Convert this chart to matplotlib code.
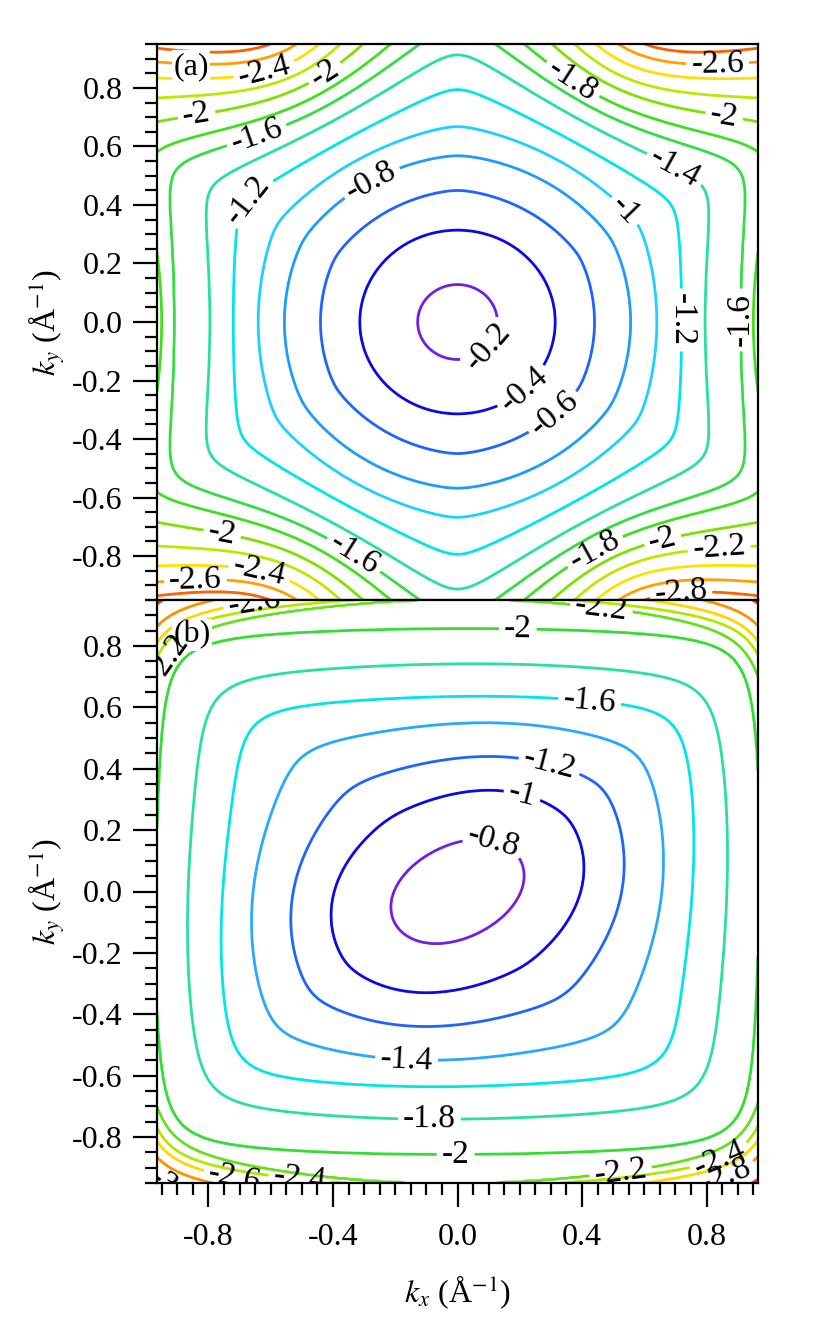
import numpy as np
import matplotlib
matplotlib.use('Agg')
import matplotlib.pyplot as plt
from matplotlib.ticker import MultipleLocator, FuncFormatter

plt.rcParams['font.family'] = ['Liberation Serif', 'DejaVu Serif']
plt.rcParams['mathtext.fontset'] = 'stix'
plt.rcParams['axes.unicode_minus'] = False

# axis ranges (1/Angstrom)
kx_range = [-0.965, 0.965]
ky_range = [-0.95, 0.95]

# drawn contour levels (eV) and their colours, lowest first
levels_a = [-3.0, -2.8, -2.6, -2.4, -2.2, -2.0, -1.8, -1.6, -1.4, -1.2, -1.0, -0.8, -0.6, -0.4, -0.2]
colors_a = ['#ff2000', '#ff6000', '#ffa000', '#ffe000', '#c0e600', '#80e000', '#40e020', '#33dd44',
            '#28e0a0', '#00e5e5', '#1ed0ff', '#1e9bff', '#1e64ff', '#0a0ae6', '#7020e6']
levels_b = [-3.0, -2.8, -2.6, -2.4, -2.2, -2.0, -1.8, -1.6, -1.4, -1.2, -1.0, -0.8]
colors_b = ['#ff3000', '#ff9000', '#ffd700', '#b4e600', '#66e01e', '#33dd33', '#28e0a0', '#00e5e5',
            '#28a8ff', '#1e64ff', '#0a0ae6', '#7020e6']

# panel (a): contour radius along the flat (0/60/120 deg) direction, extra radius
# along kx only, and how strongly each contour bulges towards the 30/90 deg vertices
prof_lev_a = [-0.08, -0.2, -0.4, -0.6, -0.8, -1.0, -1.2, -1.4, -1.6, -1.8, -2.0, -2.2, -2.4, -2.6, -2.8, -3.0, -3.2]
prof_r_a = [0.0, 0.128, 0.314, 0.44, 0.556, 0.64, 0.72, 0.795, 0.85, 0.896, 0.946, 0.99, 1.035, 1.08, 1.12, 1.15, 1.19]
prof_dx_a = [0, 0, 0, 0, 0, 0, 0, 0, 0.06, 0.054, 0.05, 0.05, 0.05, 0.05, 0.05, 0.05, 0.05]
prof_bulge_a = [0, 0, 0, 0.15, 0.15, 0.29, 0.68, 0.96, 1.2, 1.43, 1.8, 2.3, 2.8, 3.2, 3.6, 4.0, 4.4]

# panel (b): radius along ky, bulge towards the diagonals, kx stretch and tilt
prof_lev_b = [-0.66, -0.8, -1.0, -1.2, -1.4, -1.6, -1.8, -2.0, -2.2, -2.4, -2.6, -2.8, -3.0, -3.2]
prof_r_b = [0.0, 0.17, 0.33, 0.44, 0.55, 0.636, 0.742, 0.857, 0.953, 0.962, 0.99, 1.02, 1.07, 1.14]
prof_bulge_b = [0, 0, 0.1, 0.25, 0.4, 0.6, 0.6, 0.65, 0.46, 0.52, 0.5, 0.5, 0.5, 0.5]
stretch_b = [1.2, 0.06]
shear_b = [0.45, 0.55]

# contour label placement
lab_a_lev = [-2.4, -2.0, -2.0, -1.6, -1.2, -0.8, -1.8, -2.6, -2.0, -1.4, -1.0, -1.2,
             -1.6, -0.2, -0.4, -0.6, -2.0, -1.6, -2.6, -2.4, -1.8, -2.0, -2.2, -2.8]
lab_a_x = [-0.617, -0.418, -0.836, -0.64, -0.682, -0.318, 0.363, 0.836, 0.855, 0.70, 0.563, 0.733,
           0.849, 0.094, 0.21, 0.32, -0.755, -0.343, -0.842, -0.64, 0.45, 0.66, 0.84, 0.717]
lab_a_y = [0.844, 0.837, 0.697, 0.622, 0.427, 0.564, 0.817, 0.854, 0.697, 0.53, 0.407, 0.007,
           0.007, -0.079, -0.226, -0.325, -0.72, -0.813, -0.865, -0.872, -0.80, -0.75, -0.768, -0.92]

lab_b_lev = [-2.6, -2.2, -2.0, -2.2, -1.6, -1.2, -1.0, -0.8, -1.4, -1.8, -2.0, -2.2,
             -2.4, -2.8, -3.0, -2.6, -2.4]
lab_b_x = [-0.64, -0.797, 0.193, 0.45, 0.424, 0.302, 0.206, 0.113, -0.164, -0.09, -0.006, 0.50,
           0.795, 0.84, -0.878, -0.70, -0.50]
lab_b_y = [0.852, 0.673, 0.813, 0.803, 0.614, 0.439, 0.309, 0.152, -0.555, -0.744, -0.864, -0.787,
           -0.744, -0.868, -0.897, -0.852, -0.875]

kx = np.linspace(kx_range[0], kx_range[1], 500)
ky = np.linspace(ky_range[0], ky_range[1], 500)
KX, KY = np.meshgrid(kx, ky)


def surface(U, V, lev, r_flat, bulge, period, smooth, r_extra=None):
    # energy whose contour for lev[i] sits at r_flat[i] on the flat sides
    # and bulges out by (1/cos)^bulge[i] towards the polygon vertices
    lev = np.asarray(lev, float)
    r_flat = np.asarray(r_flat, float)[:, None, None]
    bulge = np.asarray(bulge, float)[:, None, None]
    R = np.hypot(U, V)
    th = np.degrees(np.arctan2(V, U))
    half = period / 2
    tp = np.abs(((th + half) % period) - half)
    d = half - tp
    sc = half / (np.sqrt(half**2 + smooth**2) - smooth)
    tpp = half - (np.sqrt(d**2 + smooth**2) - smooth) * sc
    g = 1 / np.cos(np.radians(tpp))
    if r_extra is not None:
        r_flat = r_flat + r_extra
    RL = r_flat * g[None] ** bulge
    n = len(lev)
    i = np.clip((R[None] >= RL).sum(0) - 1, 0, n - 2)
    r0 = np.take_along_axis(RL, i[None], 0)[0]
    r1 = np.take_along_axis(RL, (i + 1)[None], 0)[0]
    return lev[i] + (lev[i + 1] - lev[i]) * (R - r0) / (r1 - r0)


# panel (a): hexagonal warping, slightly wider along kx
cos2 = (KX**2) / np.maximum(KX**2 + KY**2, 1e-12)
kx_weight = np.clip((cos2 - 0.25) / 0.75, 0, 1) ** 2
extra_a = np.asarray(prof_dx_a, float)[:, None, None] * kx_weight[None]
Ea = surface(KX, KY, prof_lev_a, prof_r_a, prof_bulge_a, 60.0, 4.0, extra_a)

# panel (b): squarish warping on stretched, tilted coordinates
Rb = np.hypot(KX, KY)
shear = shear_b[0] * np.exp(-(Rb / shear_b[1]) ** 2)
ax_scale = stretch_b[0] - stretch_b[1] * (np.abs(KX) / 0.95) ** 6
Ub = (KX - shear * KY) / ax_scale
Eb = surface(Ub, KY, prof_lev_b, prof_r_b, prof_bulge_b, 90.0, 8.0)


def fmt(v):
    return f'{v:g}'


def tick_fmt(v, p):
    return '0.0' if abs(v) < 1e-9 else f'{v:.1f}'


fig = plt.figure(figsize=(8.3, 13.2), dpi=100)
ax_a = fig.add_axes([157 / 830, 720 / 1320, 601 / 830, 556 / 1320])
ax_b = fig.add_axes([157 / 830, 137 / 1320, 601 / 830, 583 / 1320])

panels = [
    (ax_a, Ea, levels_a, colors_a, lab_a_lev, lab_a_x, lab_a_y, '(a)', 0.96),
    (ax_b, Eb, levels_b, colors_b, lab_b_lev, lab_b_x, lab_b_y, '(b)', 0.94),
]

for ax, E, levels, cols, llev, lx, ly, tag, tag_y in panels:
    ax.set_xlim(kx_range)
    ax.set_ylim(ky_range)
    for lev, col in zip(levels, cols):
        cs = ax.contour(KX, KY, E, levels=[lev], colors=[col],
                        linewidths=2.0, linestyles='solid')
        pts = [(x, y) for l, x, y in zip(llev, lx, ly) if abs(l - lev) < 1e-6]
        for pt in pts:
            try:
                cs.clabel(manual=[pt], inline=True, inline_spacing=5,
                          fmt=fmt, fontsize=24, colors='k')
            except (TypeError, IndexError, ValueError):
                pass
    ax.yaxis.set_major_locator(MultipleLocator(0.2))
    ax.yaxis.set_minor_locator(MultipleLocator(0.05))
    ax.xaxis.set_major_locator(MultipleLocator(0.4))
    ax.xaxis.set_minor_locator(MultipleLocator(0.05))
    ax.yaxis.set_major_formatter(FuncFormatter(tick_fmt))
    ax.xaxis.set_major_formatter(FuncFormatter(tick_fmt))
    ax.tick_params(which='both', direction='out', width=1.6, labelsize=23)
    ax.tick_params(which='major', length=17)
    ax.tick_params(which='minor', length=8.5)
    ax.tick_params(axis='y', pad=8)
    ax.tick_params(axis='x', pad=12)
    for sp in ax.spines.values():
        sp.set_linewidth(1.6)
    ax.set_ylabel(r'$k_y$ (Å$^{-1}$)', fontsize=23)
    ax.yaxis.set_label_coords(-0.15, 0.5)
    ax.text(0.027, tag_y, tag, transform=ax.transAxes, fontsize=23, ha='left', va='center',
            bbox=dict(facecolor='white', edgecolor='none', pad=1))

ax_a.tick_params(axis='x', which='both', bottom=False, labelbottom=False)
ax_b.set_xlabel(r'$k_x$ (Å$^{-1}$)', fontsize=23)
ax_b.xaxis.set_label_coords(0.5, -0.155)

fig.savefig('out.png', dpi=100)
